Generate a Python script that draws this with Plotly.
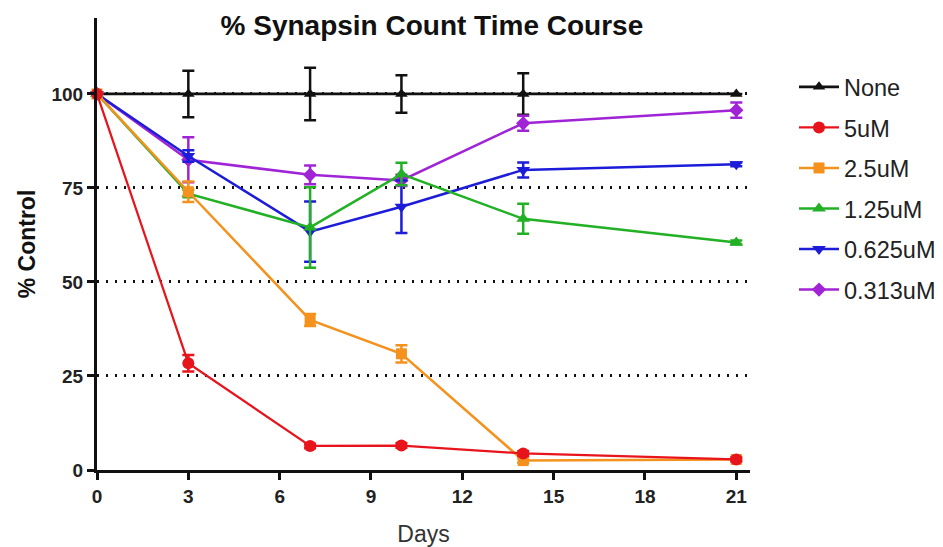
import plotly.graph_objects as go

days = [0, 3, 7, 10, 14, 21]
series_names = ["None", "5uM", "2.5uM", "1.25uM", "0.625uM", "0.313uM"]

none_vals = [100, 100, 100, 100, 100, 100]
none_err = [0, 6.2, 7.0, 5.0, 5.5, 0]
uM5_vals = [100, 28.4, 6.4, 6.5, 4.4, 2.8]
uM5_err = [0, 2.2, 0.6, 0.6, 0.6, 0.5]
uM25_vals = [100, 74.0, 39.9, 30.9, 2.5, 2.8]
uM25_err = [0, 2.7, 1.6, 2.3, 0.6, 0.5]
uM125_vals = [100, 73.5, 64.5, 78.7, 66.8, 60.5]
uM125_err = [0, 1.0, 10.7, 3.0, 4.0, 0.5]
uM0625_vals = [100, 83.5, 63.4, 70.0, 79.8, 81.3]
uM0625_err = [0, 1.5, 8.0, 7.0, 2.0, 0.5]
uM0313_vals = [100, 82.5, 78.5, 77.0, 92.2, 95.7]
uM0313_err = [0, 6.0, 2.5, 1.5, 2.0, 2.0]

x_ticks = [0, 3, 6, 9, 12, 15, 18, 21]
y_ticks = [0, 25, 50, 75, 100]

colors = {
    "None": "#111111",
    "5uM": "#e8141b",
    "2.5uM": "#f5921e",
    "1.25uM": "#22b024",
    "0.625uM": "#1c1cd9",
    "0.313uM": "#a024d6",
}
symbols = {
    "None": "triangle-up",
    "5uM": "circle",
    "2.5uM": "square",
    "1.25uM": "triangle-up",
    "0.625uM": "triangle-down",
    "0.313uM": "diamond",
}
msize = {"None": 11, "5uM": 12, "2.5uM": 11, "1.25uM": 12, "0.625uM": 12, "0.313uM": 11}
data = {
    "None": (none_vals, none_err),
    "5uM": (uM5_vals, uM5_err),
    "2.5uM": (uM25_vals, uM25_err),
    "1.25uM": (uM125_vals, uM125_err),
    "0.625uM": (uM0625_vals, uM0625_err),
    "0.313uM": (uM0313_vals, uM0313_err),
}
draw_order = ["None", "0.313uM", "0.625uM", "1.25uM", "2.5uM", "5uM"]

fig = go.Figure()
for name in draw_order:
    vals, err = data[name]
    c = colors[name]
    fig.add_trace(go.Scatter(
        x=days, y=vals, name=name, mode="lines+markers",
        line=dict(color=c, width=2.8 if name == "None" else (2.2 if name == "5uM" else 2.5)),
        marker=dict(symbol=symbols[name], size=msize[name], color=c),
        error_y=dict(type="data", array=err, visible=True, color=c, thickness=2.5, width=6),
        cliponaxis=False,
        legendrank=series_names.index(name) + 1,
        legendgroup=name,
    ))

tick_font = dict(size=19, color="#222222", family="Liberation Sans, Arial", weight="bold")

fig.update_layout(
    width=943, height=547,
    margin=dict(l=97, r=193, t=18, b=77),
    plot_bgcolor="white", paper_bgcolor="white",
    font=dict(family="Liberation Sans, Arial, sans-serif", color="#222222"),
    title=dict(text="<b>% Synapsin Count Time Course</b>", x=0.458, xanchor="center",
               y=0.954, yanchor="middle", yref="container",
               font=dict(size=28, color="#111111")),
    showlegend=True,
    legend=dict(xref="container", yref="container", x=0.842, xanchor="left",
                y=0.881, yanchor="top",
                font=dict(size=23.5, color="#222222"), traceorder="grouped",
                tracegroupgap=7, itemwidth=40, bgcolor="rgba(0,0,0,0)"),
    xaxis=dict(range=[0, 21.45], tickvals=x_ticks, ticktext=[str(v) for v in x_ticks],
               showline=True, linecolor="#111111", linewidth=3, ticks="outside",
               ticklen=7, tickwidth=2.5, tickcolor="#111111", showgrid=False, zeroline=False,
               tickfont=tick_font, automargin=False,
               title=dict(text="Days", font=dict(size=23, color="#333333"), standoff=23)),
    yaxis=dict(range=[0, 120.2], tickvals=y_ticks, ticktext=[str(v) for v in y_ticks],
               showline=True, linecolor="#111111", linewidth=3, ticks="outside",
               ticklen=7, tickwidth=2.5, tickcolor="#111111",
               showgrid=True, gridcolor="#111111", gridwidth=2.5, griddash="2px,7px",
               zeroline=False, automargin=False,
               tickfont=tick_font,
               title=dict(text="<b>% Control</b>", font=dict(size=23, color="#111111"), standoff=10)),
)

fig.write_html("out.html")
